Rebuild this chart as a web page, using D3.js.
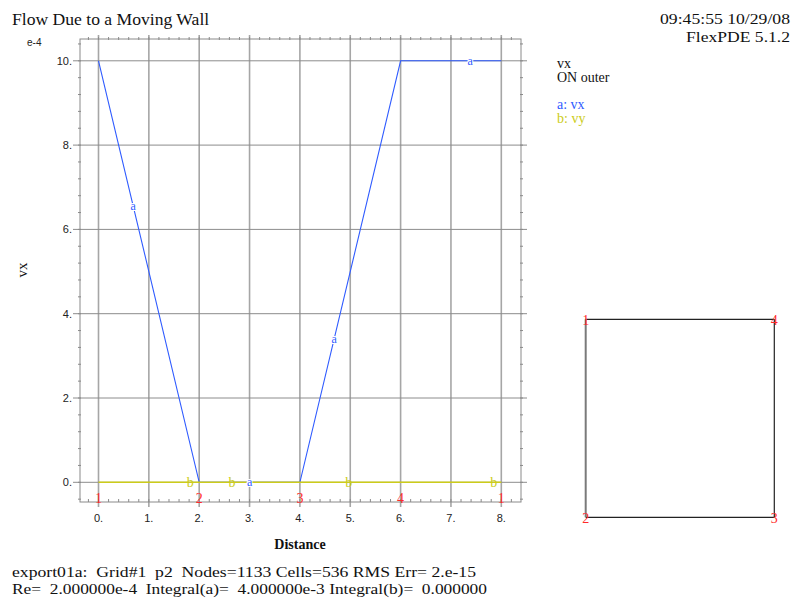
<!DOCTYPE html>
<html>
<head>
<meta charset="utf-8">
<script src="https://cdn.jsdelivr.net/npm/d3@7"></script>
<style>
  html, body { margin: 0; padding: 0; background: #fff; }
  svg { display: block; }
  .serif { font-family: "Liberation Serif", "Times New Roman", serif; }
  .sans { font-family: "Liberation Sans", Arial, sans-serif; }
</style>
</head>
<body>
<svg id="chart" width="793" height="599"></svg>
<script>
// Boundary distance along the outer contour and the velocity components (units of 1e-4)
const distance = [0, 2, 4, 6, 8];
const vxValues = [10, 0, 0, 10, 10];
const vyValues = [0, 0, 0, 0, 0];

// Curve tag positions (distance along the boundary)
const vxTagAt = [0.69, 3.0, 4.68, 7.38];
const vyTagAt = [1.82, 2.65, 4.97, 7.85];

// Boundary node numbers along the contour
const nodeLabels = ["1", "2", "3", "4", "1"];
const nodeAt = [0, 2, 4, 6, 8];

const xTicks = [0, 1, 2, 3, 4, 5, 6, 7, 8];
const yTicks = [0, 2, 4, 6, 8, 10];

// Domain square corners for the inset (node number, x, y in domain units)
const domainCorners = [
  { id: "1", x: 0, y: 1 },
  { id: "2", x: 0, y: 0 },
  { id: "3", x: 1, y: 0 },
  { id: "4", x: 1, y: 1 }
];

const BLUE = "#2f5bff";
const YELLOW = "#cccc1a";
const RED = "#ff2a2a";
const GRID = "#a6a6a6";
const FRAME = "#8a8a8a";

const svg = d3.select("#chart");
svg.append("rect").attr("width", 793).attr("height", 599).attr("fill", "#fff");

const x = d3.scaleLinear().domain([0, 8]).range([98.5, 501.3]);
const y = d3.scaleLinear().domain([0, 10]).range([482.3, 60.8]);

const frame = { left: 80, right: 521, top: 39, bottom: 502 };

const g = svg.append("g");

// Major grid lines (run slightly beyond the frame)
g.selectAll(".vgrid").data(xTicks).join("line")
  .attr("x1", d => x(d)).attr("x2", d => x(d))
  .attr("y1", frame.top - 4).attr("y2", frame.bottom + 5)
  .attr("stroke", GRID).attr("stroke-width", 1.6);

g.selectAll(".hgrid").data(yTicks).join("line")
  .attr("x1", frame.left - 7).attr("x2", frame.right + 6)
  .attr("y1", d => y(d)).attr("y2", d => y(d))
  .attr("stroke", "#8c8c8c").attr("stroke-width", 1);

// Frame
g.append("rect")
  .attr("x", frame.left).attr("y", frame.top)
  .attr("width", frame.right - frame.left).attr("height", frame.bottom - frame.top)
  .attr("fill", "none").attr("stroke", FRAME).attr("stroke-width", 1);

// Minor ticks
const xMinor = d3.range(-0.2, 8.4, 0.2).filter(v => x(v) > frame.left + 1 && x(v) < frame.right - 1);
const yMinor = d3.range(-0.4, 10.5, 0.4).filter(v => y(v) < frame.bottom - 1 && y(v) > frame.top + 1);
g.selectAll(".xmt").data(xMinor).join("line")
  .attr("x1", d => x(d)).attr("x2", d => x(d))
  .attr("y1", frame.top - 2).attr("y2", frame.top + 1)
  .attr("stroke", FRAME);
g.selectAll(".xmb").data(xMinor).join("line")
  .attr("x1", d => x(d)).attr("x2", d => x(d))
  .attr("y1", frame.bottom - 3).attr("y2", frame.bottom)
  .attr("stroke", FRAME);
g.selectAll(".yml").data(yMinor).join("line")
  .attr("x1", frame.left - 2).attr("x2", frame.left + 1)
  .attr("y1", d => y(d)).attr("y2", d => y(d))
  .attr("stroke", FRAME);
g.selectAll(".ymr").data(yMinor).join("line")
  .attr("x1", frame.right - 1).attr("x2", frame.right + 2)
  .attr("y1", d => y(d)).attr("y2", d => y(d))
  .attr("stroke", FRAME);

// Tick labels
g.selectAll(".xl").data(xTicks).join("text")
  .attr("class", "sans")
  .attr("x", d => x(d)).attr("y", 522)
  .attr("text-anchor", "middle").attr("font-size", 11).attr("fill", "#222")
  .text(d => d + ".");
g.selectAll(".yl").data(yTicks).join("text")
  .attr("class", "sans")
  .attr("x", 72).attr("y", d => y(d) + 4)
  .attr("text-anchor", "end").attr("font-size", 11).attr("fill", "#222")
  .text(d => d + ".");
g.append("text").attr("class", "sans")
  .attr("x", 27).attr("y", 46).attr("font-size", 10).attr("fill", "#222")
  .text("e-4");

// Axis titles
g.append("text").attr("class", "serif")
  .attr("x", 300).attr("y", 549).attr("text-anchor", "middle")
  .attr("font-size", 14).attr("font-weight", "bold").attr("fill", "#111")
  .text("Distance");
g.append("text").attr("class", "serif")
  .attr("transform", "translate(27,270) rotate(-90)")
  .attr("text-anchor", "middle").attr("font-size", 15).attr("fill", "#111")
  .text("vx");

// Curves
const vxData = distance.map((d, i) => ({ d, v: vxValues[i] }));
const vyData = distance.map((d, i) => ({ d, v: vyValues[i] }));
const line = d3.line().x(p => x(p.d)).y(p => y(p.v));
const interp = (data, t) => {
  for (let i = 1; i < data.length; i++) {
    if (t <= data[i].d) {
      const a = data[i - 1], b = data[i];
      return a.v + (b.v - a.v) * (t - a.d) / (b.d - a.d);
    }
  }
  return data[data.length - 1].v;
};

g.append("path").datum(vxData).attr("d", line)
  .attr("fill", "none").attr("stroke", BLUE).attr("stroke-width", 1.1);
g.append("path").datum(vyData).attr("d", line)
  .attr("fill", "none").attr("stroke", YELLOW).attr("stroke-width", 1.4);

// Curve tags (white halo knocks the curve out behind the letter)
g.selectAll(".ta").data(vxTagAt).join("text")
  .attr("class", "serif")
  .attr("x", d => x(d)).attr("y", d => y(interp(vxData, d)) + 4)
  .attr("text-anchor", "middle").attr("font-size", 12).attr("fill", BLUE)
  .attr("stroke", "#fff").attr("stroke-width", 2).attr("paint-order", "stroke")
  .text("a");
g.selectAll(".tb").data(vyTagAt).join("text")
  .attr("class", "serif")
  .attr("x", d => x(d)).attr("y", d => y(interp(vyData, d)) + 5)
  .attr("text-anchor", "middle").attr("font-size", 14).attr("fill", YELLOW)
  .text("b");

// Node numbers along the contour
g.selectAll(".nl").data(nodeAt).join("text")
  .attr("class", "serif")
  .attr("x", d => x(d)).attr("y", 503)
  .attr("text-anchor", "middle").attr("font-size", 14).attr("fill", RED)
  .text((d, i) => nodeLabels[i]);

// Title and header
svg.append("text").attr("class", "serif")
  .attr("x", 12).attr("y", 25).attr("font-size", 17.6).attr("fill", "#111")
  .text("Flow Due to a Moving Wall");
svg.append("text").attr("class", "serif")
  .attr("x", 790).attr("y", 24).attr("text-anchor", "end").attr("font-size", 15.5).attr("fill", "#111")
  .attr("textLength", 130).attr("lengthAdjust", "spacingAndGlyphs")
  .text("09:45:55 10/29/08");
svg.append("text").attr("class", "serif")
  .attr("x", 790).attr("y", 42).attr("text-anchor", "end").attr("font-size", 15.5).attr("fill", "#111")
  .attr("textLength", 104).attr("lengthAdjust", "spacingAndGlyphs")
  .text("FlexPDE 5.1.2");

// Legend
const legend = svg.append("g").attr("class", "serif").attr("font-size", 14);
legend.append("text").attr("x", 557).attr("y", 68).attr("fill", "#111").text("vx");
legend.append("text").attr("x", 557).attr("y", 82).attr("fill", "#111").text("ON outer");
legend.append("text").attr("x", 557).attr("y", 109).attr("fill", BLUE).text("a: vx");
legend.append("text").attr("x", 557).attr("y", 123).attr("fill", YELLOW).text("b: vy");

// Domain inset
const ix = d3.scaleLinear().domain([0, 1]).range([585.7, 774.3]);
const iy = d3.scaleLinear().domain([0, 1]).range([517.3, 319.3]);
const inset = svg.append("g");
const byId = Object.fromEntries(domainCorners.map(c => [c.id, c]));
const edges = [["1", "4"], ["4", "3"], ["3", "2"]];
inset.selectAll(".edge").data(edges).join("line")
  .attr("x1", e => ix(byId[e[0]].x)).attr("y1", e => iy(byId[e[0]].y))
  .attr("x2", e => ix(byId[e[1]].x)).attr("y2", e => iy(byId[e[1]].y))
  .attr("stroke", "#222").attr("stroke-width", 1.2);
inset.append("line")
  .attr("x1", ix(byId["2"].x)).attr("y1", iy(byId["2"].y))
  .attr("x2", ix(byId["1"].x)).attr("y2", iy(byId["1"].y))
  .attr("stroke", "#7a7a7a").attr("stroke-width", 2);
inset.selectAll(".cl").data(domainCorners).join("text")
  .attr("class", "serif")
  .attr("x", c => ix(c.x)).attr("y", c => iy(c.y) + 6)
  .attr("text-anchor", "middle").attr("font-size", 14).attr("fill", RED)
  .text(c => c.id);

// Footer
svg.append("text").attr("class", "serif")
  .attr("x", 12).attr("y", 577).attr("font-size", 15).attr("fill", "#111")
  .attr("xml:space", "preserve").style("white-space", "pre")
  .attr("textLength", 464).attr("lengthAdjust", "spacingAndGlyphs")
  .text("export01a:  Grid#1  p2  Nodes=1133 Cells=536 RMS Err= 2.e-15");
svg.append("text").attr("class", "serif")
  .attr("x", 12).attr("y", 594).attr("font-size", 15).attr("fill", "#111")
  .attr("xml:space", "preserve").style("white-space", "pre")
  .attr("textLength", 475).attr("lengthAdjust", "spacingAndGlyphs")
  .text("Re=  2.000000e-4  Integral(a)=  4.000000e-3 Integral(b)=  0.000000");
</script>
</body>
</html>
